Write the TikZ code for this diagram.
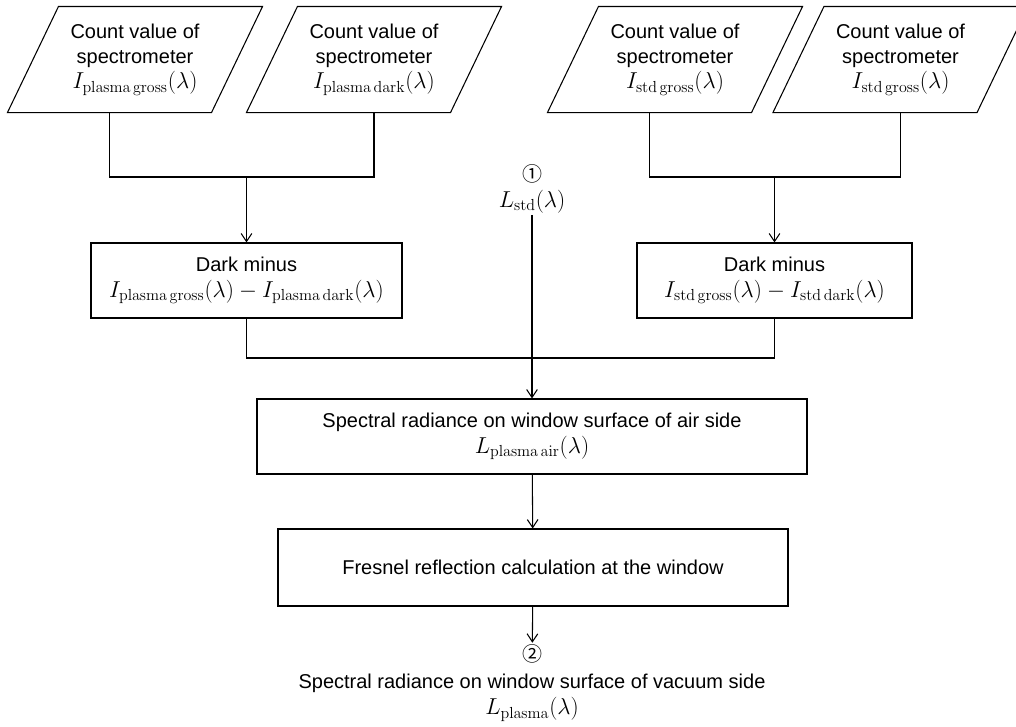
\documentclass[tikz,border=0pt]{standalone}
\usepackage[no-math]{fontspec}
\setmainfont{Liberation Sans}
\newfontfamily\circfont{Noto Sans CJK JP}
\newcommand{\mathline}[1]{{\fontsize{16.5}{19}\selectfont$#1$}}
\usetikzlibrary{arrows.meta, positioning}

\begin{document}
\begin{tikzpicture}[x=0.75pt,y=-0.75pt,->,>={Straight Barb[length=6pt,width=8pt]},line width=0.8pt,
    font=\fontsize{15}{19}\selectfont,
    inbox/.style={rectangle,minimum width=152.25pt,minimum height=78.75pt,inner sep=0pt,align=center,
        append after command={\pgfextra{\draw[-] ([xshift=-19.125pt]\tikzlastnode.south west)
            -- ([xshift=19.125pt]\tikzlastnode.north west) -- ([xshift=19.125pt]\tikzlastnode.north east)
            -- ([xshift=-19.125pt]\tikzlastnode.south east) -- cycle;}}},
    procbox/.style={draw,rectangle,minimum height=56.25pt,inner sep=0pt,align=center}]

    \useasboundingbox (0,0) rectangle (1016,726);

    % inputs
    \node[inbox] (s1) at (135,59.5) {Count value of\\spectrometer\\\mathline{I_{\mathrm{plasma\,gross}}(\lambda)}};
    \node[inbox] (s2) at (374,59.5) {Count value of\\spectrometer\\\mathline{I_{\mathrm{plasma\,dark}}(\lambda)}};
    \node[inbox] (s3) at (675,59.5) {Count value of\\spectrometer\\\mathline{I_{\mathrm{std\,gross}}(\lambda)}};
    \node[inbox] (s4) at (900.5,59.5) {Count value of\\spectrometer\\\mathline{I_{\mathrm{std\,gross}}(\lambda)}};

    % dark subtraction
    \node[procbox,minimum width=233.25pt] (dl) at (246.5,280.5) {Dark minus\\\mathline{I_{\mathrm{plasma\,gross}}(\lambda)-I_{\mathrm{plasma\,dark}}(\lambda)}};
    \node[procbox,minimum width=206.25pt] (dr) at (774.5,280.5) {Dark minus\\\mathline{I_{\mathrm{std\,gross}}(\lambda)-I_{\mathrm{std\,dark}}(\lambda)}};

    \node[align=center,inner sep=1pt] (lstd) at (532,189) {{\circfont\fontsize{15}{17}\selectfont ①}\\\mathline{L_{\mathrm{std}}(\lambda)}};

    \node[procbox,minimum width=412.5pt] (air) at (532,436.5) {Spectral radiance on window surface of air side\\\mathline{L_{\mathrm{plasma\,air}}(\lambda)}};
    \node[procbox,minimum width=382.5pt,minimum height=57.75pt] (fres) at (533,567.5) {Fresnel reflection calculation at the window};

    \node[align=center,inner sep=1pt,font=\fontsize{15}{20}\selectfont] (vac) at (532,683) {{\circfont\fontsize{15}{17}\selectfont ②}\\Spectral radiance on window surface of vacuum side\\\mathline{L_{\mathrm{plasma}}(\lambda)}};

    \coordinate (jl) at (246.5,177);
    \coordinate (jr) at (774.5,177);
    \coordinate (jm) at (532,358);

    \path[-]
    ([xshift=-19.125pt]s1.south) edge[to path={|- (\tikztotarget)}] (jl)
    (jl) edge[to path={-| (\tikztotarget)}] (s2.south)
    ([xshift=-19.125pt]s3.south) edge[to path={|- (\tikztotarget)}] (jr)
    (jr) edge[to path={-| (\tikztotarget)}] (s4.south)
    (dl.south) edge[to path={|- (\tikztotarget)}] (jm)
    (jm) edge[to path={-| (\tikztotarget)}] (dr.south)
    ;

    \path
    (jl) edge (dl)
    (jr) edge (dr)
    (lstd) edge (air)
    (air) edge (fres)
    (fres) edge (vac)
    ;
\end{tikzpicture}
\end{document}
